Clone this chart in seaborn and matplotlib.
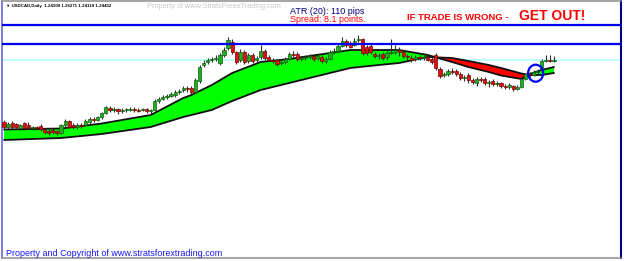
import matplotlib
matplotlib.use("Agg")
import numpy as np
import pandas as pd
import seaborn as sns
import matplotlib.pyplot as plt
from matplotlib.patches import Ellipse

# USDCAD daily candles
opens = [1.183, 1.178, 1.182, 1.181, 1.177, 1.182, 1.180, 1.177, 1.178, 1.179,
         1.176, 1.174, 1.175, 1.174, 1.172, 1.180, 1.184, 1.180, 1.178, 1.180,
         1.180, 1.183, 1.186, 1.185, 1.188, 1.192, 1.197, 1.195, 1.196, 1.194,
         1.195, 1.195, 1.196, 1.195, 1.195, 1.196, 1.194, 1.195, 1.204, 1.206,
         1.208, 1.209, 1.210, 1.213, 1.215, 1.217, 1.217, 1.213, 1.224, 1.240,
         1.243, 1.245, 1.246, 1.242, 1.250, 1.257, 1.263, 1.253, 1.245, 1.253,
         1.244, 1.250, 1.245, 1.248, 1.254, 1.248, 1.245, 1.245, 1.242, 1.243,
         1.246, 1.251, 1.251, 1.246, 1.247, 1.248, 1.249, 1.247, 1.248, 1.244,
         1.246, 1.253, 1.254, 1.259, 1.264, 1.262, 1.260, 1.265, 1.266, 1.258,
         1.259, 1.251, 1.249, 1.251, 1.248, 1.252, 1.253, 1.255, 1.253, 1.249,
         1.247, 1.246, 1.248, 1.247, 1.248, 1.246, 1.250, 1.236, 1.230, 1.231,
         1.234, 1.234, 1.231, 1.227, 1.230, 1.225, 1.222, 1.226, 1.226, 1.222,
         1.224, 1.221, 1.222, 1.219, 1.218, 1.219, 1.216, 1.218, 1.226, 1.231,
         1.230, 1.233, 1.236, 1.244, 1.245, 1.244]
highs = [1.185, 1.183, 1.184, 1.182, 1.181, 1.183, 1.183, 1.179, 1.179, 1.181,
         1.177, 1.176, 1.176, 1.175, 1.181, 1.186, 1.185, 1.182, 1.182, 1.182,
         1.186, 1.188, 1.188, 1.189, 1.193, 1.199, 1.199, 1.198, 1.197, 1.197,
         1.197, 1.198, 1.198, 1.197, 1.197, 1.197, 1.196, 1.206, 1.208, 1.210,
         1.211, 1.213, 1.215, 1.216, 1.219, 1.219, 1.219, 1.227, 1.240, 1.245,
         1.247, 1.248, 1.250, 1.252, 1.258, 1.268, 1.266, 1.254, 1.256, 1.255,
         1.252, 1.252, 1.249, 1.260, 1.256, 1.250, 1.247, 1.246, 1.245, 1.248,
         1.253, 1.254, 1.253, 1.249, 1.250, 1.251, 1.251, 1.251, 1.250, 1.248,
         1.255, 1.257, 1.261, 1.268, 1.266, 1.264, 1.267, 1.270, 1.267, 1.260,
         1.261, 1.253, 1.252, 1.253, 1.254, 1.266, 1.260, 1.258, 1.255, 1.251,
         1.250, 1.250, 1.250, 1.250, 1.250, 1.248, 1.252, 1.238, 1.233, 1.236,
         1.237, 1.236, 1.233, 1.230, 1.232, 1.227, 1.228, 1.228, 1.228, 1.225,
         1.226, 1.224, 1.223, 1.221, 1.222, 1.220, 1.220, 1.227, 1.232, 1.233,
         1.235, 1.236, 1.246, 1.250, 1.250, 1.249]
lows = [1.176, 1.176, 1.176, 1.176, 1.175, 1.175, 1.176, 1.175, 1.175, 1.174,
        1.171, 1.170, 1.171, 1.170, 1.171, 1.177, 1.177, 1.176, 1.176, 1.177,
        1.179, 1.181, 1.183, 1.184, 1.186, 1.191, 1.193, 1.193, 1.191, 1.192,
        1.193, 1.194, 1.193, 1.193, 1.194, 1.192, 1.191, 1.194, 1.202, 1.205,
        1.206, 1.208, 1.208, 1.211, 1.213, 1.213, 1.211, 1.212, 1.222, 1.238,
        1.241, 1.243, 1.244, 1.240, 1.248, 1.255, 1.251, 1.241, 1.243, 1.241,
        1.242, 1.242, 1.243, 1.246, 1.245, 1.244, 1.242, 1.239, 1.240, 1.241,
        1.245, 1.248, 1.244, 1.244, 1.245, 1.246, 1.244, 1.245, 1.242, 1.242,
        1.245, 1.251, 1.253, 1.258, 1.258, 1.257, 1.259, 1.263, 1.250, 1.250,
        1.251, 1.247, 1.246, 1.245, 1.245, 1.251, 1.251, 1.249, 1.247, 1.245,
        1.243, 1.244, 1.245, 1.245, 1.244, 1.241, 1.235, 1.227, 1.228, 1.229,
        1.231, 1.229, 1.225, 1.224, 1.222, 1.221, 1.219, 1.223, 1.220, 1.218,
        1.219, 1.219, 1.217, 1.216, 1.216, 1.214, 1.215, 1.217, 1.225, 1.228,
        1.229, 1.231, 1.235, 1.243, 1.243, 1.243]
closes = [1.178, 1.181, 1.178, 1.178, 1.180, 1.177, 1.178, 1.178, 1.177, 1.176,
          1.173, 1.172, 1.173, 1.172, 1.180, 1.184, 1.178, 1.178, 1.180, 1.179,
          1.184, 1.186, 1.185, 1.188, 1.192, 1.198, 1.195, 1.196, 1.194, 1.195,
          1.196, 1.196, 1.195, 1.194, 1.196, 1.194, 1.195, 1.204, 1.206, 1.208,
          1.209, 1.211, 1.213, 1.214, 1.217, 1.216, 1.213, 1.225, 1.238, 1.242,
          1.245, 1.246, 1.247, 1.250, 1.255, 1.265, 1.253, 1.243, 1.253, 1.243,
          1.250, 1.244, 1.247, 1.254, 1.247, 1.245, 1.244, 1.241, 1.243, 1.246,
          1.251, 1.250, 1.246, 1.247, 1.248, 1.249, 1.246, 1.249, 1.244, 1.246,
          1.253, 1.254, 1.259, 1.264, 1.260, 1.258, 1.264, 1.266, 1.252, 1.252,
          1.253, 1.249, 1.250, 1.247, 1.252, 1.253, 1.255, 1.253, 1.249, 1.248,
          1.245, 1.248, 1.247, 1.248, 1.245, 1.243, 1.237, 1.229, 1.231, 1.234,
          1.233, 1.231, 1.227, 1.228, 1.225, 1.223, 1.226, 1.225, 1.222, 1.223,
          1.221, 1.222, 1.219, 1.218, 1.220, 1.216, 1.218, 1.226, 1.231, 1.230,
          1.233, 1.234, 1.244, 1.245, 1.244, 1.245]

# moving average ribbon (fast / slow), sampled at these bars
ma_bars = [0, 14, 24, 36, 44, 46, 51, 56, 63, 70, 80, 85, 92, 97, 104, 110,
           114, 119, 122, 127, 129, 132, 135]
fast_ma = [1.1755, 1.1765, 1.1815, 1.1900, 1.2070, 1.2100, 1.2200, 1.2320,
           1.2430, 1.2460, 1.2520, 1.2550, 1.2550, 1.2550, 1.2500, 1.2430,
           1.2380, 1.2330, 1.2295, 1.2260, 1.2310, 1.2350, 1.2380]
slow_ma = [1.1650, 1.1670, 1.1710, 1.1780, 1.1880, 1.1900, 1.1950, 1.2040,
           1.2150, 1.2220, 1.2320, 1.2370, 1.2400, 1.2420, 1.2480, 1.2470,
           1.2440, 1.2400, 1.2370, 1.2315, 1.2300, 1.2300, 1.2320]

level_lines = [1.2800, 1.2615]
bid_price = 1.24452
signal_bar, signal_price = 130.5, 1.2318

df = pd.DataFrame({'open': opens, 'high': highs, 'low': lows, 'close': closes})
df['bar'] = np.arange(len(df))
df['up'] = df['close'] >= df['open']

sns.set_style("white")
plt.rcParams['font.family'] = ['Liberation Sans', 'DejaVu Sans']

fig = plt.figure(figsize=(6.25, 2.61), dpi=100)
ax = fig.add_axes([2 / 625, 3 / 261, 619 / 625, 257 / 261])
ax.set_xlim(-0.49, 151.45)
ax.set_ylim(1.047, 1.304)
ax.set_xticks([])
ax.set_yticks([])
for side, col in [('left', '#5a5ad8'), ('right', '#000080'), ('top', '#8c8c8c'), ('bottom', '#8c8c8c')]:
    ax.spines[side].set_visible(True)
    ax.spines[side].set_color(col)
    ax.spines[side].set_linewidth(1.5 if side == 'right' else 1.1)

# ribbon
fa = np.array(fast_ma)
sl = np.array(slow_ma)
ax.fill_between(ma_bars, fa, sl, where=fa >= sl, interpolate=True, color='#00ff00', lw=0, zorder=1)
ax.fill_between(ma_bars, fa, sl, where=fa < sl, interpolate=True, color='#ff0000', lw=0, zorder=1)
sns.lineplot(x=ma_bars, y=fast_ma, color='#101010', lw=1.3, ax=ax, zorder=2)
sns.lineplot(x=ma_bars, y=slow_ma, color='#101010', lw=1.3, ax=ax, zorder=2)

# bid line and levels
ax.axhline(bid_price, color='#b8ffff', lw=1.3, zorder=0.5)
for lvl in level_lines:
    ax.axhline(lvl, color='#0000f0', lw=1.6, zorder=6)

# candles
face = np.where(df['up'], '#1fae1f', '#e01010')
edge = np.where(df['up'], '#0c5c0c', '#760000')
ax.vlines(df['bar'], df['low'], df['high'], color='#303030', lw=0.8, zorder=3)
ax.bar(df['bar'], df['close'] - df['open'], bottom=df['open'], width=0.78,
       color=face, edgecolor=edge, lw=0.5, zorder=4)

ax.add_patch(Ellipse((signal_bar, signal_price), width=3.7, height=0.017, fill=False,
                     edgecolor='#0000ff', lw=1.6, zorder=7))


def px(x, y):
    return x / 625, 1 - y / 261


fig.text(*px(6, 6), '\u25bc USDCAD,Daily  1.24109 1.26271 1.24110 1.24452', fontsize=3.2,
         weight='bold', va='center', color='black')
fig.text(*px(147, 7), 'Property of www.StratsForexTrading.com', fontsize=5.3,
         va='center', color='#c8c8c8')
fig.text(*px(290, 11), 'ATR (20): 110 pips', fontsize=6.5, va='center', color='#000080')
fig.text(*px(290, 20), 'Spread: 8.1 points.', fontsize=6.4, va='center', color='#ff0000')
fig.text(*px(407, 17), 'IF TRADE IS WRONG - ', fontsize=6.8, weight='bold',
         va='center', color='#ff0000')
fig.text(*px(519, 16.5), 'GET OUT!', fontsize=10, weight='bold', va='center', color='#ff0000')
fig.text(*px(6, 253), 'Property and Copyright of www.stratsforextrading.com', fontsize=6.45,
         va='center', color='#1a1aff')

fig.savefig('out.png', dpi=100)
